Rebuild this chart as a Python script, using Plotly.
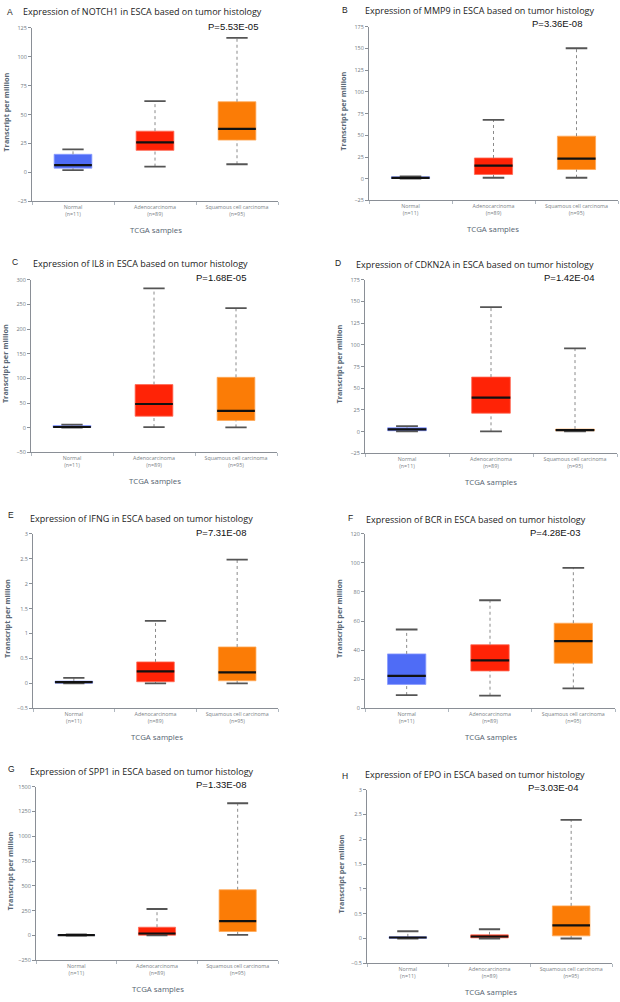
import plotly.graph_objects as go

W, H = 620, 1002

groups = ["Normal<br>(n=11)", "Adenocarcinoma<br>(n=89)", "Squamous cell carcinoma<br>(n=95)"]
box_colors = ["#4f6cf6", "#ff2306", "#fb7c06"]
edge_colors = ["#8a9cff", "#ff6a55", "#ffa857"]

genes = ["NOTCH1", "MMP9", "IL8", "CDKN2A", "IFNG", "BCR", "SPP1", "EPO"]
letters = ["A", "B", "C", "D", "E", "F", "G", "H"]
pvalues = ["P=5.53E-05", "P=3.36E-08", "P=1.68E-05", "P=1.42E-04",
           "P=7.31E-08", "P=4.28E-03", "P=1.33E-08", "P=3.03E-04"]

# per gene: [Normal, Adenocarcinoma, Squamous]
notch1_low = [2.0, 5.1, 7.1]
notch1_q1 = [3.7, 19.1, 28.0]
notch1_med = [6.3, 26.0, 37.7]
notch1_q3 = [15.7, 35.7, 61.1]
notch1_up = [20.0, 61.7, 116.3]

mmp9_low = [0.1, 1.1, 1.1]
mmp9_q1 = [0.4, 4.9, 10.6]
mmp9_med = [1.0, 15.2, 23.1]
mmp9_q3 = [2.2, 23.9, 49.0]
mmp9_up = [2.8, 67.9, 150.3]

il8_low = [0.1, 1.3, 0.7]
il8_q1 = [0.6, 23.4, 14.7]
il8_med = [1.5, 48.1, 34.1]
il8_q3 = [4.5, 87.5, 102.2]
il8_up = [6.5, 282.6, 242.5]

cdkn2a_low = [0.4, 0.4, 0.4]
cdkn2a_q1 = [1.1, 21.3, 1.1]
cdkn2a_med = [2.7, 39.2, 1.9]
cdkn2a_q3 = [4.6, 62.9, 3.0]
cdkn2a_up = [6.5, 143.6, 96.0]

ifng_low = [0.0, 0.0, 0.0]
ifng_q1 = [0.005, 0.033, 0.053]
ifng_med = [0.025, 0.24, 0.22]
ifng_q3 = [0.046, 0.43, 0.73]
ifng_up = [0.11, 1.255, 2.48]

bcr_low = [9.1, 8.7, 13.7]
bcr_q1 = [16.4, 25.7, 31.0]
bcr_med = [22.3, 33.0, 46.2]
bcr_q3 = [37.4, 43.7, 58.5]
bcr_up = [54.2, 74.3, 96.6]

spp1_low = [0.0, 0.5, 6.7]
spp1_q1 = [1.0, 3.3, 40.0]
spp1_med = [3.0, 20.0, 144.0]
spp1_q3 = [6.0, 83.5, 461.0]
spp1_up = [12.0, 267.0, 1333.0]

epo_low = [0.0, 0.0, 0.0]
epo_q1 = [0.003, 0.013, 0.053]
epo_med = [0.02, 0.04, 0.266]
epo_q3 = [0.033, 0.073, 0.657]
epo_up = [0.146, 0.186, 2.39]

stats = [
    (notch1_low, notch1_q1, notch1_med, notch1_q3, notch1_up),
    (mmp9_low, mmp9_q1, mmp9_med, mmp9_q3, mmp9_up),
    (il8_low, il8_q1, il8_med, il8_q3, il8_up),
    (cdkn2a_low, cdkn2a_q1, cdkn2a_med, cdkn2a_q3, cdkn2a_up),
    (ifng_low, ifng_q1, ifng_med, ifng_q3, ifng_up),
    (bcr_low, bcr_q1, bcr_med, bcr_q3, bcr_up),
    (spp1_low, spp1_q1, spp1_med, spp1_q3, spp1_up),
    (epo_low, epo_q1, epo_med, epo_q3, epo_up),
]

y_ranges = [(-25, 125, 25), (-25, 175, 25), (-50, 300, 50), (-25, 175, 25),
            (-0.5, 3, 0.5), (0, 120, 20), (-250, 1500, 250), (-0.5, 3, 0.5)]

# layout geometry in pixels: plot area (x0, x1, y0, y1)
areas = [(32, 278, 24, 199), (369, 618, 23, 198),
         (31, 277, 278, 452), (365, 617, 278, 453),
         (33, 278, 534, 710), (365, 615, 534, 710),
         (36, 278, 789, 964), (367, 612, 792, 967)]
letter_pos = [(5, 8), (340, 6), (10, 260), (333, 261), (6, 515), (346, 518), (6, 771), (340, 778)]
title_pos = [(21, 8), (363, 7), (31, 262), (354, 263), (28, 519), (364, 520), (28, 774), (363, 777)]
p_pos = [(260, 23), (584, 20), (248, 276), (596, 276), (248, 533), (582, 533), (248, 787), (580, 790)]

BOXW = 0.46
CAPW = 0.13

def px(x):
    return x / W

def py(y):
    return 1 - y / H

fig = go.Figure()
annotations = []
layout = {}
xs = [0, 1, 2]
for k in range(8):
    low, q1, med, q3, up = stats[k]
    sfx = "" if k == 0 else str(k + 1)
    xa, ya = "x" + sfx, "y" + sfx
    x0, x1, y0, y1 = areas[k]
    ymin, ymax, dt = y_ranges[k]

    # whiskers (dotted)
    wx, wy = [], []
    for i in xs:
        wx += [i, i, None, i, i, None]
        wy += [low[i], q1[i], None, q3[i], up[i], None]
    fig.add_trace(go.Scatter(x=wx, y=wy, mode="lines", xaxis=xa, yaxis=ya,
                             line=dict(color="#8a8a8a", width=1, dash="dot"),
                             showlegend=False, hoverinfo="skip"))
    # boxes
    fig.add_trace(go.Bar(x=xs, base=q1, y=[q3[i] - q1[i] for i in xs], width=BOXW,
                         xaxis=xa, yaxis=ya,
                         marker=dict(color=box_colors, line=dict(color=edge_colors, width=0.8)),
                         showlegend=False))
    # caps
    cx, cy = [], []
    for i in xs:
        cx += [i - CAPW, i + CAPW, None, i - CAPW, i + CAPW, None]
        cy += [low[i], low[i], None, up[i], up[i], None]
    fig.add_trace(go.Scatter(x=cx, y=cy, mode="lines", xaxis=xa, yaxis=ya,
                             line=dict(color="#555555", width=1.8),
                             showlegend=False, hoverinfo="skip"))
    # medians
    mx, my = [], []
    for i in xs:
        mx += [i - BOXW / 2, i + BOXW / 2, None]
        my += [med[i], med[i], None]
    fig.add_trace(go.Scatter(x=mx, y=my, mode="lines", xaxis=xa, yaxis=ya,
                             line=dict(color="#111111", width=2.2),
                             showlegend=False, hoverinfo="skip"))

    layout["xaxis" + sfx] = dict(
        domain=[px(x0), px(x1)], anchor=ya, range=[-0.5, 2.5],
        tickvals=xs, ticktext=groups, ticks="", showgrid=False, zeroline=False,
        showline=True, linecolor="#8a8f96", linewidth=1,
        tickfont=dict(family="Open Sans", size=5.3, color="#7a7f86"),
        minor=dict(tickvals=[-0.5, 0.5, 1.5, 2.5], ticks="outside", ticklen=3,
                   tickcolor="#b0b8c0", showgrid=False),
        fixedrange=True)
    layout["yaxis" + sfx] = dict(
        domain=[py(y1), py(y0)], anchor=xa, range=[ymin, ymax], dtick=dt, tick0=0,
        ticks="outside", ticklen=3, tickcolor="#8a8f96", showgrid=False, zeroline=False,
        showline=True, linecolor="#8a8f96", linewidth=1,
        tickfont=dict(family="Open Sans", size=5.5, color="#6f7780"),
        fixedrange=True)

    lx, ly = letter_pos[k]
    annotations.append(dict(text=letters[k], x=px(lx), y=py(ly), xref="paper", yref="paper",
                            xanchor="left", yanchor="middle", showarrow=False,
                            font=dict(family="Liberation Sans", size=8.5, color="#222")))
    tx, ty = title_pos[k]
    annotations.append(dict(text="Expression of %s in ESCA based on tumor histology" % genes[k],
                            x=px(tx), y=py(ty), xref="paper", yref="paper",
                            xanchor="left", yanchor="middle", showarrow=False,
                            font=dict(family="Open Sans", size=9, color="#222")))
    pxr, pyy = p_pos[k]
    annotations.append(dict(text=pvalues[k], x=px(pxr), y=py(pyy), xref="paper", yref="paper",
                            xanchor="right", yanchor="middle", showarrow=False,
                            font=dict(family="Liberation Sans", size=9.5, color="#111")))
    annotations.append(dict(text="TCGA samples", x=px((x0 + min(x1, 615)) / 2 + 1), y=py(y1 + 29),
                            xref="paper", yref="paper", xanchor="center", yanchor="middle",
                            showarrow=False,
                            font=dict(family="Open Sans", size=7.8, color="#56636f")))
    annotations.append(dict(text="<b>Transcript per million</b>", x=px(x0 - 26), y=py((y0 + y1) / 2 - 2),
                            xref="paper", yref="paper", xanchor="center", yanchor="middle",
                            textangle=-90, showarrow=False,
                            font=dict(family="Open Sans", size=7.3, color="#5a6875")))

fig.update_layout(width=W, height=H, margin=dict(l=0, r=0, t=0, b=0),
                  paper_bgcolor="white", plot_bgcolor="white", hovermode=False,
                  barmode="overlay", annotations=annotations, **layout)

fig.write_html("out.html", config={"displayModeBar": False},
               post_script="document.body.style.margin='0';")
